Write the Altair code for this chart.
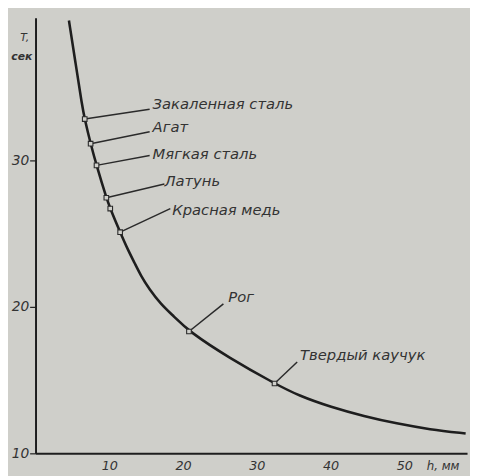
import altair as alt
import pandas as pd

# Curve (h in mm, T in seconds)
curve_h = [4.53, 5.43, 6.31, 6.67, 7.47, 8.27, 9.6, 10.13, 11.47, 12.53, 13.43, 14.31, 15.43,
           16.97, 18.76, 20.8, 26.27, 32.4, 35.64, 40.09, 44.53, 48.97, 53.43, 58.31]
curve_T = [39.55, 36.64, 33.74, 32.82, 31.14, 29.66, 27.45, 26.71, 25.10, 23.89, 23.0, 22.10, 21.21,
           20.20, 19.35, 18.32, 16.51, 14.77, 13.94, 13.15, 12.53, 12.03, 11.63, 11.36]

# Material markers on the curve
mark_h = [6.67, 7.47, 8.27, 9.6, 10.13, 11.47, 20.8, 32.4]
mark_T = [32.82, 31.14, 29.66, 27.45, 26.71, 25.10, 18.32, 14.77]

# Labelled materials (leader line from marker to label)
materials = ["Закаленная сталь", "Агат", "Мягкая сталь", "Латунь", "Красная медь", "Рог", "Твердый каучук"]
mat_h = [6.67, 7.47, 8.27, 9.6, 11.47, 20.8, 32.4]
mat_T = [32.82, 31.14, 29.66, 27.45, 25.10, 18.32, 14.77]
lead_h = [15.47, 15.47, 15.47, 17.47, 18.27, 25.47, 35.47]
lead_T = [33.49, 31.95, 30.34, 28.39, 26.71, 20.20, 16.24]
text_h = [15.87, 15.87, 15.87, 17.47, 18.53, 26.13, 35.87]
text_T = [33.83, 32.28, 30.40, 28.59, 26.58, 20.67, 16.71]

x_ticks = [10, 20, 30, 40, 50]
y_ticks = [10, 20, 30]

BG = "#cfcfca"
INK = "#1e1e1e"
TXT = "#333333"
FONT = "DejaVu Sans"

curve_df = pd.DataFrame({"h": curve_h, "T": curve_T})
mark_df = pd.DataFrame({"h": mark_h, "T": mark_T})
mat_df = pd.DataFrame({"name": materials, "h": mat_h, "T": mat_T,
                       "h2": lead_h, "T2": lead_T, "th": text_h, "tT": text_T})

xs = alt.Scale(domain=[0, 58.5], nice=False, zero=False)
ys = alt.Scale(domain=[10, 39.73], nice=False, zero=False)

x_axis = alt.Axis(values=x_ticks, title=None, ticks=False, grid=False, domainColor=INK,
                  domainWidth=2, labelFont=FONT, labelFontSize=13, labelFontStyle="italic",
                  labelColor=TXT, labelPadding=6)
y_axis = alt.Axis(values=y_ticks, title=None, ticks=True, tickSize=6, tickColor=INK, tickWidth=1.2,
                  grid=False, domainColor=INK, domainWidth=2, labelFont=FONT, labelFontSize=14,
                  labelFontStyle="italic", labelColor=TXT, labelPadding=1)

base = alt.Chart(curve_df)

curve = base.mark_line(color=INK, strokeWidth=2.6, interpolate="basis").encode(
    x=alt.X("h:Q", scale=xs, axis=x_axis),
    y=alt.Y("T:Q", scale=ys, axis=y_axis),
)

leaders = alt.Chart(mat_df).mark_rule(color="#2a2a2a", strokeWidth=1.5).encode(
    x=alt.X("h:Q", scale=xs), y=alt.Y("T:Q", scale=ys), x2="h2:Q", y2="T2:Q"
)

markers = alt.Chart(mark_df).mark_point(shape="square", size=22, filled=True, fill=BG,
                                         stroke="#2a2a2a", strokeWidth=1.1, opacity=1).encode(
    x=alt.X("h:Q", scale=xs), y=alt.Y("T:Q", scale=ys)
)

labels = alt.Chart(mat_df).mark_text(align="left", baseline="middle", font=FONT, fontSize=15,
                                     fontStyle="italic", color=TXT).encode(
    x=alt.X("th:Q", scale=xs), y=alt.Y("tT:Q", scale=ys), text="name:N"
)

t_label = alt.Chart(pd.DataFrame({"t": ["T,"]})).mark_text(
    align="center", baseline="middle", font=FONT, fontSize=11, fontStyle="italic", color=TXT
).encode(x=alt.value(-11), y=alt.value(21), text="t:N")
sec_label = alt.Chart(pd.DataFrame({"t": ["сек"]})).mark_text(
    align="center", baseline="middle", font=FONT, fontSize=11, fontStyle="italic",
    fontWeight="bold", color=TXT
).encode(x=alt.value(-14), y=alt.value(40), text="t:N")
h_label = alt.Chart(pd.DataFrame({"t": ["h, мм"]})).mark_text(
    align="left", baseline="middle", font=FONT, fontSize=12, fontStyle="italic", color=TXT
).encode(x=alt.value(398), y=alt.value(456), text="t:N")

chart = alt.layer(curve, leaders, markers, labels, t_label, sec_label, h_label).properties(
    width=439, height=443,
    autosize=alt.AutoSizeParams(type="none"),
    padding={"left": 28, "top": 6, "right": 3, "bottom": 19},
    background=BG,
).configure_view(stroke=None)

chart.save("out.html", embed_options={"renderer": "svg", "actions": False})
